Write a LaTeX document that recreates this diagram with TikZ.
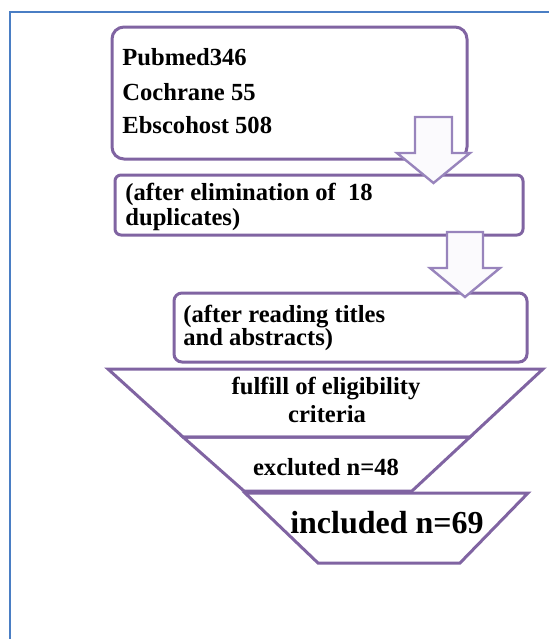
\documentclass[tikz,border=0pt]{standalone}
\usepackage{fontspec}
\setmainfont{Liberation Serif}
\usetikzlibrary{positioning}
\definecolor{boxline}{RGB}{128,100,162}
\definecolor{arrline}{RGB}{152,132,188}
\definecolor{arrfill}{RGB}{251,250,253}
\definecolor{frameblue}{RGB}{74,126,196}
\tikzset{
  box/.style={draw=boxline, line width=1.5pt},
  blockarr/.style={draw=arrline, fill=arrfill, line width=1.2pt, line join=miter},
  txt/.style={anchor=base west, inner sep=0pt, font=\fontsize{12.3}{14}\selectfont\bfseries},
  ctxt/.style={txt, anchor=base},
}

\begin{document}
\begin{tikzpicture}[x=0.5pt,y=-0.5pt]
          \useasboundingbox (0,0) rectangle (549,639);
          \draw[frameblue, line width=1.1pt] (10,639) -- (10,12) -- (549,12);
          % boxes
          \draw[box, rounded corners=6pt] (112,27) rectangle (467,159);
          \draw[box, rounded corners=3pt] (115,175) rectangle (523,235);
          \draw[box, rounded corners=4pt] (174,293) rectangle (527,362);
          % funnel
          \draw[box] (108,369) -- (543,369) -- (470,437) -- (183,437) -- cycle;
          \draw[box] (183,437) -- (470,437) -- (412,491) -- (244,491) -- cycle;
          \draw[box] (245,493) -- (528,493) -- (460,563) -- (318,563) -- cycle;
          % block arrows
          \draw[blockarr] (415,117) -- (452,117) -- (452,153) -- (470,153) -- (433.5,183)
                -- (397,153) -- (415,153) -- cycle;
          \draw[blockarr] (447,232) -- (483,232) -- (483,268) -- (500,268) -- (465,297)
                -- (430,268) -- (447,268) -- cycle;
          % texts
          \node[txt] (pubmed) at (122,65) {Pubmed346};
          \node[txt] (cochrane) at (122,100) {Cochrane 55};
          \node[txt] (ebsco) at (122,133) {Ebscohost 508};
          \node[txt] (elimA) at (125,200) {(after elimination of~~18};
          \node[txt] (elimB) at (125,225) {duplicates)};
          \node[txt] (readA) at (183,322) {(after reading titles};
          \node[txt] (readB) at (183,345) {and abstracts)};
          \node[ctxt] (eligA) at (326,394) {fulfill of eligibility};
          \node[ctxt] (eligB) at (327,422) {criteria};
          \node[ctxt] (excl) at (326,475) {excluted n=48};
          \node[ctxt, font=\fontsize{16}{18}\selectfont\bfseries] (incl) at (387,533) {included n=69};
    \end{tikzpicture}
\end{document}
